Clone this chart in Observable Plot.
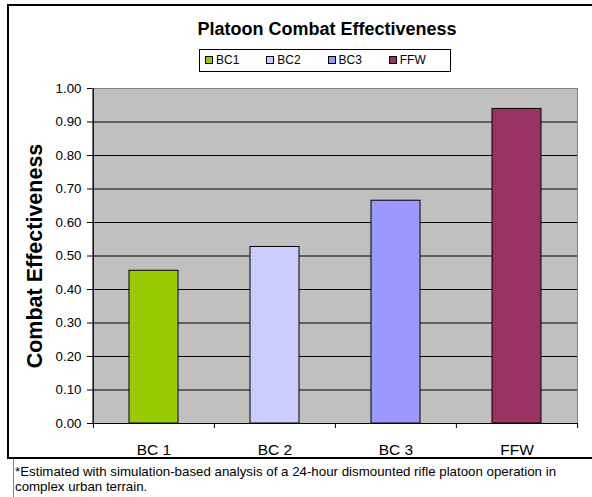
<!DOCTYPE html>
<html><head><meta charset="utf-8">
<script src="https://cdn.jsdelivr.net/npm/d3@7"></script>
<script src="https://cdn.jsdelivr.net/npm/@observablehq/plot@0.6"></script>
<style>
html,body{margin:0;padding:0;background:#fff;overflow:hidden;}
#wrap{position:relative;width:592px;height:497px;overflow:hidden;font-family:"Liberation Sans",Arial,sans-serif;color:#000;}
#chart{position:absolute;left:0;top:0;}
#frame{position:absolute;left:7px;top:4px;width:700px;height:451px;border:2px solid #000;pointer-events:none;}
#title{position:absolute;left:0;width:654px;top:20px;text-align:center;font-size:18px;line-height:18px;font-weight:bold;white-space:nowrap;}
#legend{position:absolute;left:199px;top:49px;width:252px;height:23px;box-sizing:border-box;border:1px solid #000;background:#fff;padding-left:5px;display:flex;}
.item{width:67px;height:21px;line-height:21px;font-size:12px;white-space:nowrap;}
.sw{display:inline-block;width:6px;height:6px;border:1px solid #000;margin-right:3px;}
#vline{position:absolute;left:13px;top:459px;width:1px;height:38px;background:#808080;}
#note{position:absolute;left:15px;top:465px;width:572px;font-size:13.3px;line-height:14.5px;}
</style>
</head><body>
<div id="wrap">
  <div id="chart"></div>
  <div id="frame"></div>
  <div id="title"></div>
  <div id="legend"></div>
  <div id="vline"></div>
  <div id="note"></div>
</div>
<script>
const chartTitle = "Platoon Combat Effectiveness";
const yLabel = "Combat Effectiveness";
const categories = ["BC 1", "BC 2", "BC 3", "FFW"];
const legendLabels = ["BC1", "BC2", "BC3", "FFW"];
const values = [0.456, 0.527, 0.665, 0.939];
const colors = ["#99CC00", "#CCCCFF", "#9999FF", "#993366"];
const yTicks = [0, 0.1, 0.2, 0.3, 0.4, 0.5, 0.6, 0.7, 0.8, 0.9, 1.0];
const footnote = "*Estimated with simulation-based analysis of a 24-hour dismounted rifle platoon operation in complex urban terrain.";

const data = categories.map((c, i) => ({category: c, value: values[i]}));
const gridTicks = yTicks.filter(t => t > 0 && t < 1);

const W = 592, H = 459, mL = 92, mR = 15, mT = 88, mB = 36;
const step = (W - mL - mR) / categories.length;
const font = '"Liberation Sans", Arial, sans-serif';

const chart = Plot.plot({
  width: W, height: H,
  marginLeft: mL, marginRight: mR, marginTop: mT, marginBottom: mB,
  style: {fontFamily: font, color: "#000", background: "#fff"},
  x: {domain: categories, paddingInner: 0.596, paddingOuter: 0.298, label: null},
  y: {domain: [0, 1], label: null},
  color: {domain: categories, range: colors},
  marks: [
    Plot.frame({fill: "#C0C0C0", stroke: "#808080"}),
    Plot.ruleY(gridTicks, {stroke: "#000", strokeWidth: 1}),
    Plot.barY(data, {x: "category", y: "value", fill: "category", stroke: "#000", strokeWidth: 1}),
    Plot.ruleY([0], {stroke: "#000", strokeWidth: 1}),
    Plot.ruleX([categories[0]], {dx: -step / 2, stroke: "#000", insetBottom: -5}),
    Plot.ruleX(categories.slice(1), {dx: -step / 2, y1: 0, y2: 0, insetBottom: -5, stroke: "#000"}),
    Plot.ruleX([categories[categories.length - 1]], {dx: step / 2, y1: 0, y2: 0, insetBottom: -5, stroke: "#000"}),
    Plot.axisY({ticks: yTicks, tickFormat: d3.format(".2f"), tickSize: 5, tickPadding: 6, fontSize: 13.3, stroke: "#000", fill: "#000", label: null}),
    Plot.axisX({tickSize: 0, tickPadding: 20, fontSize: 15.5, fill: "#000", label: null}),
    Plot.text([yLabel], {text: d => d, frameAnchor: "left", textAnchor: "middle", lineAnchor: "middle", dx: -57, rotate: -90, fontSize: 21.5, fontWeight: "bold", fill: "#000"})
  ]
});
document.getElementById("chart").appendChild(chart);

document.getElementById("title").textContent = chartTitle;
const legend = document.getElementById("legend");
legendLabels.forEach((lab, i) => {
  const item = document.createElement("div");
  item.className = "item";
  const sw = document.createElement("span");
  sw.className = "sw";
  sw.style.background = colors[i];
  item.appendChild(sw);
  item.appendChild(document.createTextNode(lab));
  legend.appendChild(item);
});
document.getElementById("note").textContent = footnote;
</script>
</body></html>
